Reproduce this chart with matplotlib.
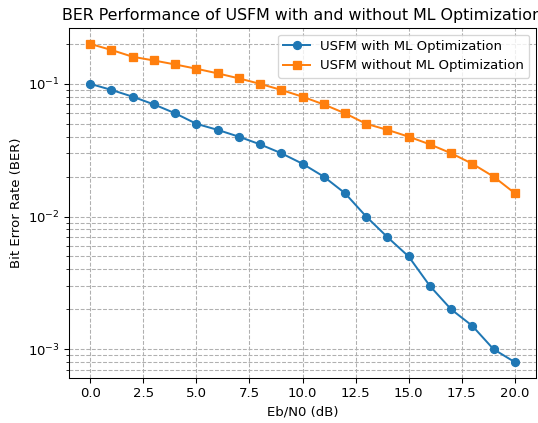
import numpy as np
import matplotlib

matplotlib.use("Agg")
import matplotlib.pyplot as plt

# Eb/N0 sweep and BER values
ebn0_db = list(range(0, 21))
ber_with_ml = [0.1, 0.09, 0.08, 0.07, 0.06, 0.05, 0.045, 0.04, 0.035, 0.03, 0.025,
               0.02, 0.015, 0.01, 0.007, 0.005, 0.003, 0.002, 0.0015, 0.001, 0.0008]
ber_without_ml = [0.2, 0.18, 0.16, 0.15, 0.14, 0.13, 0.12, 0.11, 0.1, 0.09, 0.08,
                  0.07, 0.06, 0.05, 0.045, 0.04, 0.035, 0.03, 0.025, 0.02, 0.015]

DPI = 95  # reference looks rendered slightly smaller than 100 dpi
fig = plt.figure(figsize=(538 / DPI, 423 / DPI), dpi=DPI)
ax = fig.add_axes([69 / 538, 1 - 378 / 423, (536 - 69) / 538, (378 - 28) / 423])

ax.semilogy(ebn0_db, ber_with_ml, "o-", label="USFM with ML Optimization")
ax.semilogy(ebn0_db, ber_without_ml, "s-", label="USFM without ML Optimization")

ax.set_xlabel("Eb/N0 (dB)")
ax.set_ylabel("Bit Error Rate (BER)")
ax.set_title("BER Performance of USFM with and without ML Optimization")
ax.grid(True, which="both", linestyle="--")
ax.legend()

fig.savefig("out.png", dpi=DPI)
